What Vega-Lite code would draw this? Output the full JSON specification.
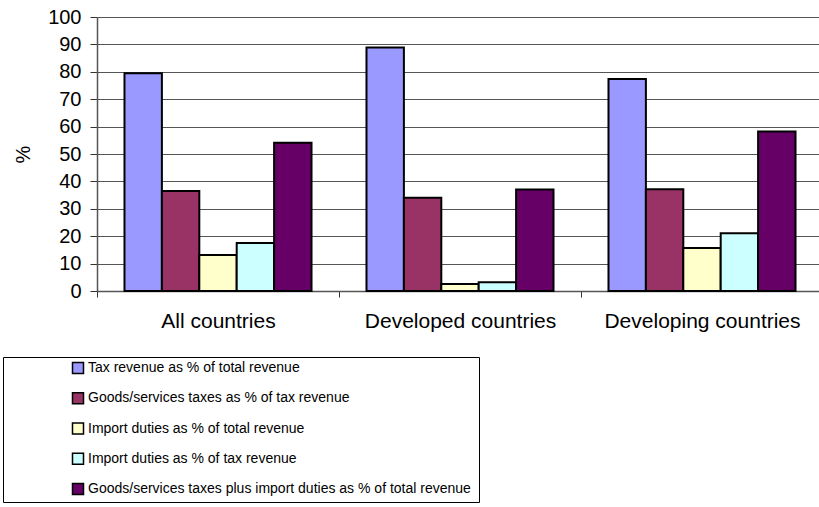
{
  "$schema": "https://vega.github.io/schema/vega-lite/v6.json",
  "width": 726,
  "height": 274,
  "autosize": {"type": "none"},
  "padding": {"left": 97, "top": 17, "right": 0, "bottom": 216},
  "background": "white",
  "config": {
    "view": {"stroke": null},
    "font": "Liberation Sans"
  },
  "data": {
    "values": [
      {"group": "All countries", "series": "Tax revenue as % of total revenue", "value": 79.5},
      {"group": "All countries", "series": "Goods/services taxes as % of tax revenue", "value": 36.5},
      {"group": "All countries", "series": "Import duties as % of total revenue", "value": 13.1},
      {"group": "All countries", "series": "Import duties as % of tax revenue", "value": 17.5},
      {"group": "All countries", "series": "Goods/services taxes plus import  duties as % of total revenue", "value": 54.1},
      {"group": "Developed countries", "series": "Tax revenue as % of total revenue", "value": 88.9},
      {"group": "Developed countries", "series": "Goods/services taxes as % of tax revenue", "value": 34.0},
      {"group": "Developed countries", "series": "Import duties as % of total revenue", "value": 2.6},
      {"group": "Developed countries", "series": "Import duties as % of tax revenue", "value": 3.2},
      {"group": "Developed countries", "series": "Goods/services taxes plus import  duties as % of total revenue", "value": 37.0},
      {"group": "Developing countries", "series": "Tax revenue as % of total revenue", "value": 77.4},
      {"group": "Developing countries", "series": "Goods/services taxes as % of tax revenue", "value": 37.1},
      {"group": "Developing countries", "series": "Import duties as % of total revenue", "value": 15.7},
      {"group": "Developing countries", "series": "Import duties as % of tax revenue", "value": 21.1},
      {"group": "Developing countries", "series": "Goods/services taxes plus import  duties as % of total revenue", "value": 58.2}
    ]
  },
  "mark": {"type": "bar", "stroke": "black", "strokeWidth": 2},
  "encoding": {
    "x": {
      "field": "group",
      "type": "nominal",
      "sort": null,
      "scale": {"paddingInner": 0, "paddingOuter": 0},
      "axis": {
        "title": null,
        "labelAngle": 0,
        "labelFontSize": 21,
        "labelColor": "black",
        "labelPadding": 13,
        "labelLimit": 400,
        "tickBand": "extent",
        "tickSize": 6,
        "tickColor": "#333",
        "domainColor": "#555",
        "domainWidth": 1.5,
        "grid": false
      }
    },
    "xOffset": {
      "field": "series",
      "type": "nominal",
      "sort": null,
      "scale": {"paddingInner": 0, "paddingOuter": 0.735}
    },
    "y": {
      "field": "value",
      "type": "quantitative",
      "scale": {"domain": [0, 100], "nice": false},
      "axis": {
        "title": "%",
        "titleFontSize": 20,
        "titleFontWeight": "normal",
        "titleColor": "black",
        "titlePadding": 14,
        "values": [0, 10, 20, 30, 40, 50, 60, 70, 80, 90, 100],
        "labelFontSize": 20,
        "labelColor": "black",
        "labelPadding": 9,
        "tickSize": 7,
        "tickColor": "#333",
        "domainColor": "#555",
        "domainWidth": 1.5,
        "grid": true,
        "gridColor": "#555",
        "gridWidth": 1
      }
    },
    "color": {
      "field": "series",
      "type": "nominal",
      "sort": null,
      "scale": {
        "domain": [
          "Tax revenue as % of total revenue",
          "Goods/services taxes as % of tax revenue",
          "Import duties as % of total revenue",
          "Import duties as % of tax revenue",
          "Goods/services taxes plus import  duties as % of total revenue"
        ],
        "range": ["#9999FF", "#993366", "#FFFFCC", "#CCFFFF", "#660066"]
      },
      "legend": {
        "title": null,
        "orient": "none",
        "legendX": -94,
        "legendY": 340,
        "direction": "vertical",
        "strokeColor": "black",
        "fillColor": "white",
        "padding": 4,
        "rowPadding": 12.25,
        "symbolType": "square",
        "symbolSize": 121,
        "symbolStrokeColor": "black",
        "symbolStrokeWidth": 1.5,
        "symbolOpacity": 1,
        "symbolOffset": 64,
        "labelFont": "Liberation Sans",
        "labelFontSize": 14,
        "labelColor": "black",
        "labelOffset": 3,
        "labelLimit": 800
      }
    }
  }
}
